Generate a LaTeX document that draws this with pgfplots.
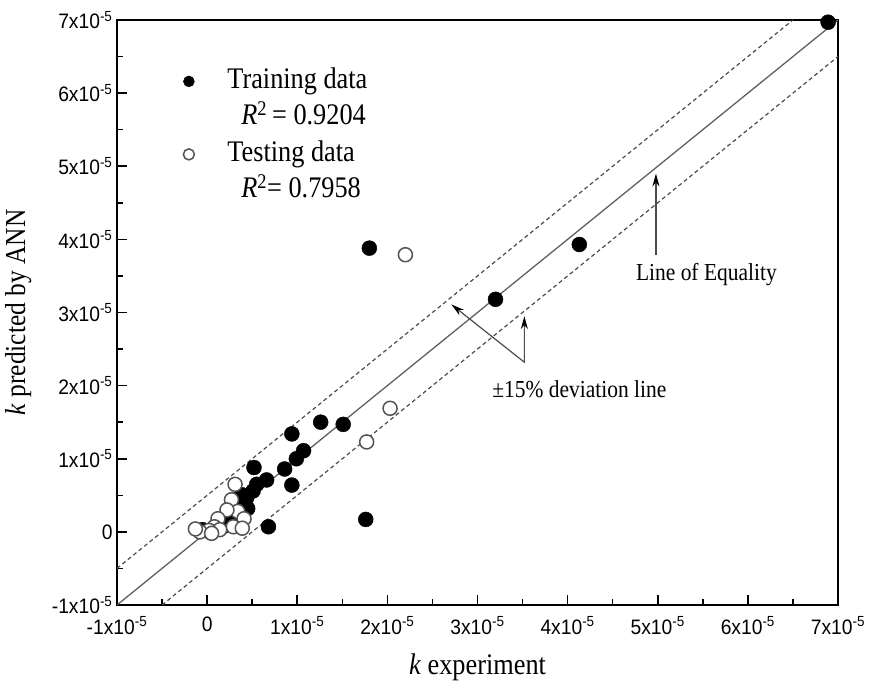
\documentclass[border=0pt]{standalone}
\usepackage{fontspec}
\setmainfont{Liberation Serif}[FakeStretch=0.88]
\setsansfont{Liberation Sans}[FakeStretch=0.92]
\usepackage{pgfplots}
\pgfplotsset{compat=1.18}
\usetikzlibrary{arrows.meta}

% tick label in the form 3x10^-5
\newcommand{\sci}[1]{#1x10\textsuperscript{-5}}

\begin{document}
\begin{tikzpicture}
\begin{axis}[
  name=ax,
  scale only axis,
  width=721bp, height=585bp,
  xmin=-1, xmax=7, ymin=-1, ymax=7,
  xtick={-1,0,1,2,3,4,5,6,7},
  ytick={-1,0,1,2,3,4,5,6,7},
  xticklabels={\sci{-1},0,\sci{1},\sci{2},\sci{3},\sci{4},\sci{5},\sci{6},\sci{7}},
  yticklabels={\sci{-1},0,\sci{1},\sci{2},\sci{3},\sci{4},\sci{5},\sci{6},\sci{7}},
  minor tick num=1,
  tick align=inside,
  xtick pos=bottom, ytick pos=left,
  major tick length=10bp, minor tick length=6bp,
  every tick/.style={line width=1.6bp, black},
  axis line style={line width=2bp},
  ticklabel style={font=\sffamily\fontsize{21}{24}\selectfont},
  xticklabel style={yshift=-8bp},
  yticklabel style={xshift=-1bp},
  xlabel={\textit{k} experiment},
  ylabel={\textit{k} predicted by ANN},
  xlabel style={font=\fontsize{30}{34}\selectfont,
    at={(axis description cs:0.5,-0.106)}, anchor=center},
  ylabel style={font=\fontsize{29}{33}\selectfont,
    at={(axis description cs:-0.137,0.5)}, anchor=center},
  legend style={at={(0.0835,0.93)}, anchor=north west, draw=none, fill=none,
    font=\fontsize{30}{34}\selectfont, row sep=0bp,
    nodes={inner ysep=0bp, text height=25bp, text depth=11.5bp},
    /tikz/every odd column/.append style={column sep=31bp}},
  legend cell align=left,
  legend image post style={mark size=5.5bp},
]
% line of equality and the +/-15% band
\addplot[gray!75!black, line width=1.3bp, forget plot] coordinates {(-1,-1) (7,7)};
\addplot[gray!60!black, line width=1.2bp, dash pattern=on 4bp off 3bp, forget plot]
  coordinates {(-1,-0.5) (6.5,7)};
\addplot[gray!60!black, line width=1.2bp, dash pattern=on 4bp off 3bp, forget plot]
  coordinates {(-0.5,-1) (7,6.5)};

% training set
\addplot[only marks, mark=*, mark size=7.5bp, draw=black, fill=black] coordinates {
  (6.89,6.97) (4.13,3.93) (3.20,3.18) (1.80,3.88)
  (1.26,1.50) (1.51,1.47) (0.94,1.34) (1.07,1.11) (0.99,1.00)
  (0.86,0.86) (0.94,0.64) (0.52,0.88) (0.66,0.71) (0.55,0.65)
  (0.51,0.56) (0.68,0.07) (1.76,0.17) (0.44,0.47) (0.38,0.51)
  (0.45,0.32) (0.34,0.37) (0.40,0.22) (0.30,0.25) (0.25,0.15)
  (0.19,0.08) (0.22,0.12) (0.10,0.03) (0.04,-0.01) (-0.05,0.03)
};
\addlegendentry{Training data}
\addlegendimage{empty legend}
\addlegendentry{\hspace*{14bp}\textit{R}\textsuperscript{2}\,= 0.9204}

% testing set
\addplot[only marks, mark=*, mark size=7bp, draw=gray!65!black, fill=white,
  mark options={line width=1.5bp}] coordinates {
  (2.20,3.79) (2.03,1.69) (1.77,1.23)
  (0.31,0.65) (0.27,0.44) (0.34,0.28) (0.22,0.30) (0.41,0.18)
  (0.29,0.07) (0.39,0.05) (0.12,0.18) (0.08,0.07) (0.14,0.03)
  (0.02,0.02) (-0.08,0.00) (-0.13,0.04) (0.05,-0.02)
};
\addlegendentry{Testing data}
\addlegendimage{empty legend}
\addlegendentry{\hspace*{14bp}\textit{R}\textsuperscript{2}= 0.7958}

% annotations
\draw[gray!60!black, line width=1.2bp, -{Stealth[length=13bp, width=7bp, black]}]
  (axis cs:4.98,3.79) -- (axis cs:4.98,4.90);
\node[font=\fontsize{24.5}{28}\selectfont] at (axis cs:5.54,3.52) {Line of Equality};
\draw[gray!60!black, line width=1.2bp,
  {Stealth[length=13bp, width=7bp, black]}-{Stealth[length=13bp, width=7bp, black]}]
  (axis cs:2.71,3.11) -- (axis cs:3.52,2.32) -- (axis cs:3.52,2.95);
\node[font=\fontsize{24.5}{28}\selectfont] at (axis cs:4.13,1.95) {±15\% deviation line};
\end{axis}
\pgfresetboundingbox
\path ([shift={(-117bp,-87bp)}]ax.south west) rectangle ([shift={(39bp,20bp)}]ax.north east);
\end{tikzpicture}
\end{document}
